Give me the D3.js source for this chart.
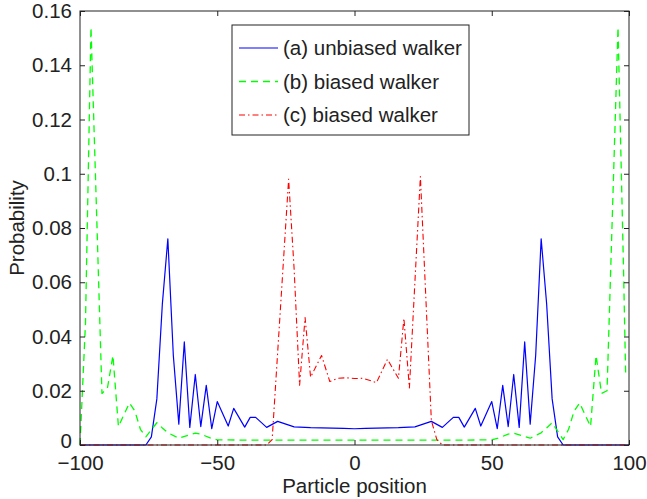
<!DOCTYPE html>
<html><head><meta charset="utf-8">
<script src="https://cdn.jsdelivr.net/npm/d3@7"></script>
<style>
html,body{margin:0;padding:0;background:#fff;}
svg{display:block;}
text{font-family:"Liberation Sans",Arial,Helvetica,sans-serif;fill:#222;}
</style></head>
<body><svg id="chart" width="647" height="499"></svg>
<script>
// ---- data ----
const xTicks = [-100, -50, 0, 50, 100];
const xTickLabels = ["\u2212100", "\u221250", "0", "50", "100"];
const yTicks = [0, 0.02, 0.04, 0.06, 0.08, 0.10, 0.12, 0.14, 0.16];
const yTickLabels = ["0", "0.02", "0.04", "0.06", "0.08", "0.1", "0.12", "0.14", "0.16"];

const seriesNames = ["(a) unbiased walker", "(b) biased walker", "(c) biased walker"];

const blueX = [-100,-76,-74,-72,-70,-68,-66,-64,-62,-60,-58,-56,-54,-52,-50,-46,-44,-40,-38,-36,-32,-28,-22,-20,-16,-12,-8,-4,
               0,
               4,8,12,16,20,22,28,32,36,38,40,44,46,50,52,54,56,58,60,62,64,66,68,70,72,74,76,100];
const blueY = [0,0,0.003,0.017,0.052,0.076,0.033,0.0077,0.038,0.0065,0.026,0.0068,0.022,0.006,0.016,0.007,0.0135,0.0066,0.0102,0.0102,0.0065,0.0087,0.0067,0.0066,0.0064,0.0063,0.0062,0.0061,
               0.006,
               0.0061,0.0062,0.0063,0.0064,0.0066,0.0067,0.0087,0.0065,0.0102,0.0102,0.0066,0.0135,0.007,0.016,0.006,0.022,0.0068,0.026,0.0065,0.038,0.0077,0.033,0.076,0.052,0.017,0.003,0,0];

const greenX = [-100,-98,-96,-94,-92,-90,-88,-86,-82,-80,-78,-76,-72,-70,-68,-64,-58,-56,-52,-50,-40,-20,0,20,40,
                50,52,56,58,64,68,70,72,76,78,80,82,86,88,90,92,94,96,98,98.8];
const greenY = [0,0.045,0.154,0.087,0.019,0.021,0.033,0.0068,0.0155,0.0125,0.0058,0.003,0.0082,0.0063,0.0045,0.0025,0.0044,0.004,0.0024,0.0019,0.0018,0.0018,0.0018,0.0018,0.0018,
                0.0019,0.0024,0.004,0.0044,0.0025,0.0045,0.0063,0.0082,0.002,0.0058,0.0125,0.0155,0.0068,0.033,0.019,0.02,0.087,0.154,0.065,0.025];

const redX = [-100,-32,-30,-24,-22,-20,-18,-16,-12,-9,-6,-3,0,3,8,12,16,18,20,24,28,30,32,100];
const redY = [0,0,0.002,0.098,0.065,0.022,0.047,0.025,0.033,0.0234,0.0246,0.0248,0.0245,0.0246,0.023,0.0316,0.0246,0.0467,0.021,0.099,0.009,0.002,0,0];

// ---- layout ----
const svg = d3.select("#chart");
const L = 80, R = 629, T = 11, B = 445;
const x = d3.scaleLinear().domain([-100, 100]).range([L, R]);
const y = d3.scaleLinear().domain([0, 0.16]).range([B, T]);
const FS = 20.5;

const series = [
  {xs: blueX, ys: blueY, color: "#0000ff", dash: null, w: 1.2},
  {xs: greenX, ys: greenY, color: "#00ff00", dash: "7,5", w: 1.3},
  {xs: redX, ys: redY, color: "#ff0000", dash: "6,3,1.5,3", w: 1.1}
];

const line = d3.line().x(d => x(d[0])).y(d => y(d[1]));
series.forEach(s => {
  svg.append("path")
    .datum(d3.zip(s.xs, s.ys))
    .attr("d", line)
    .attr("fill", "none")
    .attr("stroke", s.color)
    .attr("stroke-width", s.w)
    .attr("stroke-dasharray", s.dash)
    .attr("stroke-linejoin", "round");
});

// ---- axes (ticks inward on all sides) ----
const axisColor = "#222";
const gB = svg.append("g").attr("transform", `translate(0,${B})`)
  .call(d3.axisBottom(x).tickValues(xTicks).tickSize(-5).tickPadding(10)
        .tickFormat((d, i) => xTickLabels[i]));
const gT = svg.append("g").attr("transform", `translate(0,${T})`)
  .call(d3.axisTop(x).tickValues(xTicks).tickSize(-5).tickFormat(""));
const gL = svg.append("g").attr("transform", `translate(${L},0)`)
  .call(d3.axisLeft(y).tickValues(yTicks).tickSize(-5).tickPadding(8)
        .tickFormat((d, i) => yTickLabels[i]));
const gR = svg.append("g").attr("transform", `translate(${R},0)`)
  .call(d3.axisRight(y).tickValues(yTicks).tickSize(-5).tickFormat(""));
[gB, gT, gL, gR].forEach(g => {
  g.select(".domain").remove();
  g.selectAll("line").attr("stroke", axisColor);
  g.selectAll("text").style("font-size", FS + "px").attr("fill", "#222");
});
// lift the y "0" label slightly so it does not collide with "−100"
gL.selectAll(".tick text").filter(d => d === 0).attr("dy", "0.1em");
svg.append("rect").attr("x", L).attr("y", T).attr("width", R - L).attr("height", B - T)
  .attr("fill", "none").attr("stroke", axisColor).attr("stroke-width", 1);

// ---- axis titles ----
svg.append("text").attr("x", (L + R) / 2).attr("y", 493).attr("text-anchor", "middle")
  .style("font-size", FS + "px").text("Particle position");
svg.append("text").attr("transform", `translate(24,${(T + B) / 2}) rotate(-90)`)
  .attr("text-anchor", "middle").style("font-size", FS + "px").text("Probability");

// ---- legend ----
const lg = svg.append("g");
lg.append("rect").attr("x", 232).attr("y", 25).attr("width", 237).attr("height", 110)
  .attr("fill", "#fff").attr("stroke", axisColor).attr("stroke-width", 1);
const rowY = [48, 81.5, 115];
series.forEach((s, i) => {
  lg.append("line").attr("x1", 239).attr("x2", 278).attr("y1", rowY[i]).attr("y2", rowY[i])
    .attr("stroke", s.color).attr("stroke-width", s.w).attr("stroke-dasharray", s.dash);
  lg.append("text").attr("x", 283).attr("y", rowY[i]).attr("dy", "0.35em")
    .style("font-size", FS + "px").text(seriesNames[i]);
});
</script>
</body></html>
